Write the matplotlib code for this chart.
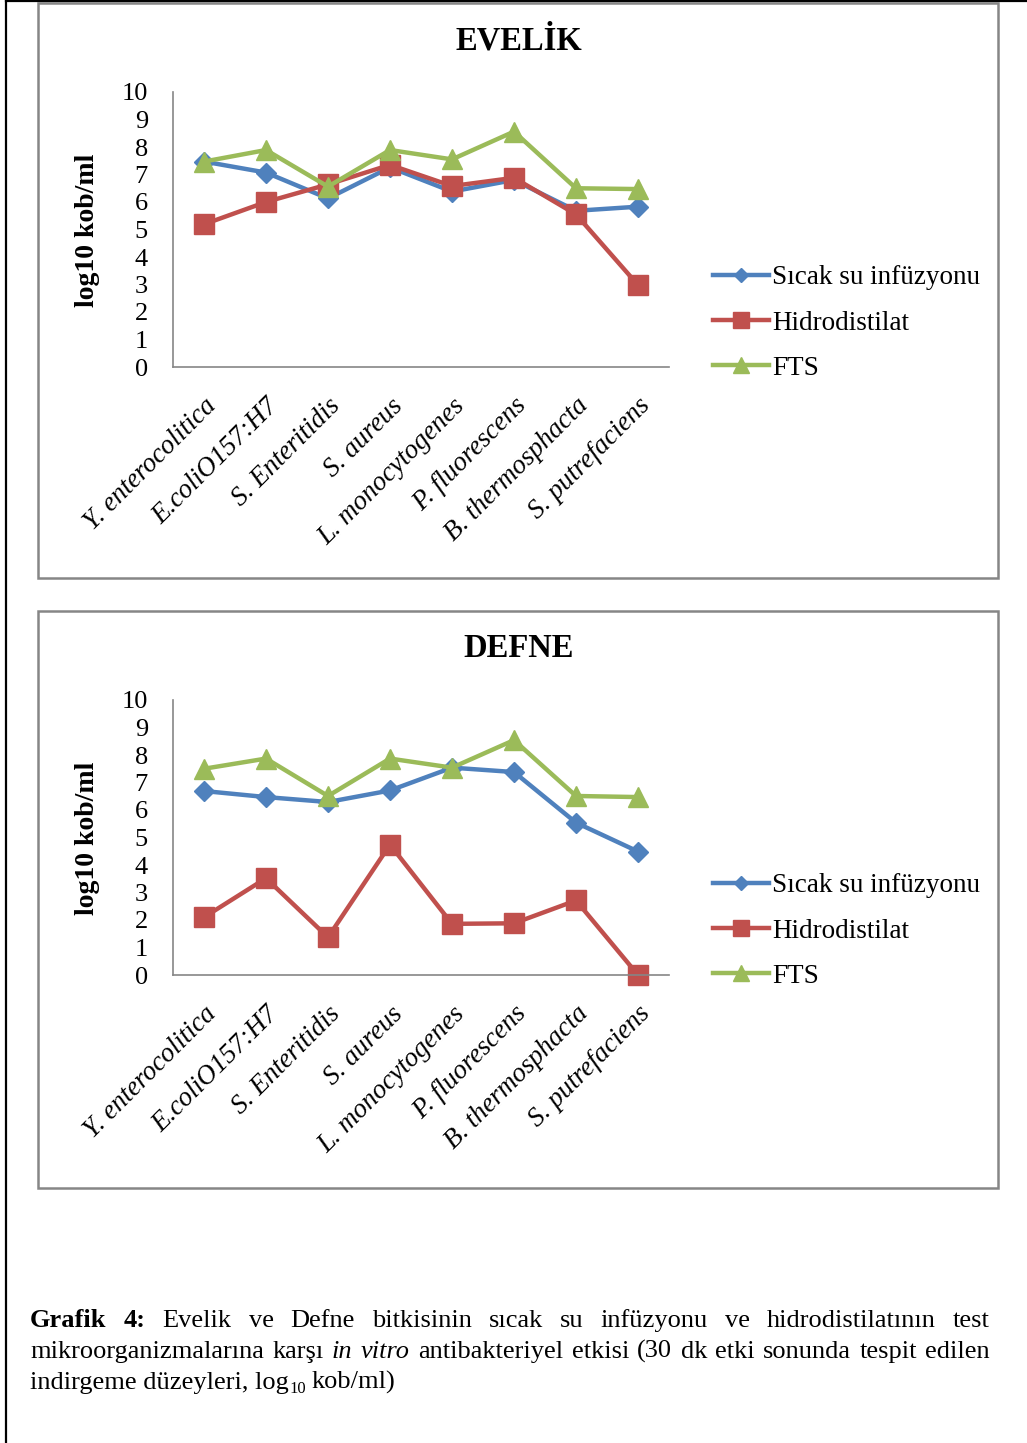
import matplotlib
matplotlib.use('Agg')
import matplotlib.pyplot as plt
from matplotlib.lines import Line2D
from matplotlib.patches import Rectangle

plt.rcParams['font.family'] = ['Liberation Serif', 'DejaVu Serif']

# mikroorganizmalar (x ekseni)
kategoriler = ['Y. enterocolitica', 'E.coliO157:H7', 'S. Enteritidis', 'S. aureus',
               'L. monocytogenes', 'P. fluorescens', 'B. thermosphacta', 'S. putrefaciens']
seriler = ['Sıcak su infüzyonu', 'Hidrodistilat', 'FTS']

# EVELİK, log10 kob/ml
evelik_sicak = [7.47, 7.07, 6.13, 7.26, 6.38, 6.80, 5.68, 5.83]
evelik_hidro = [5.19, 6.00, 6.64, 7.35, 6.58, 6.88, 5.55, 2.98]
evelik_fts = [7.47, 7.89, 6.56, 7.89, 7.55, 8.56, 6.50, 6.47]

# DEFNE, log10 kob/ml
defne_sicak = [6.69, 6.47, 6.29, 6.71, 7.54, 7.38, 5.54, 4.49]
defne_hidro = [2.10, 3.52, 1.37, 4.74, 1.86, 1.88, 2.71, 0.00]
defne_fts = [7.50, 7.87, 6.51, 7.87, 7.54, 8.54, 6.51, 6.47]

y_ticks = list(range(0, 11))

renkler = ['#4F81BD', '#C0504D', '#9BBB59']
isaretler = [('D', 10), ('s', 14.5), ('^', 14.5)]

W, H = 1027, 1443
fig = plt.figure(figsize=(W / 100, H / 100), dpi=100)


def fx(x):
    return x / W


def fy(y):
    return 1 - y / H


# sayfa kenar çizgileri
fig.add_artist(Line2D([fx(6), fx(6)], [0, 1], color='black', lw=1.6))
fig.add_artist(Line2D([fx(6), 1], [fy(0.5), fy(0.5)], color='black', lw=1.6))


def grafik(ust, alt, baslik, degerler):
    # çerçeve
    fig.add_artist(Rectangle((fx(38), fy(alt)), fx(998) - fx(38), (alt - ust) / H,
                             transform=fig.transFigure, fill=False,
                             edgecolor='#868686', lw=1.8))
    fig.text(fx(519), fy(ust + 38), baslik, ha='center', va='center',
             fontsize=23.5, fontweight='bold')
    fig.text(fx(88), fy(ust + 227), 'log10 kob/ml', rotation=90, ha='center',
             va='center', fontsize=20, fontweight='bold')

    eksen_ust = ust + 89
    ax = fig.add_axes([fx(173), fy(eksen_ust + 275), 496 / W, 275 / H])
    x = list(range(len(kategoriler)))
    for vals, ad, renk, (m, ms) in zip(degerler, seriler, renkler, isaretler):
        ax.plot(x, vals, color=renk, lw=3.2, marker=m, markersize=ms,
                label=ad, clip_on=False, solid_joinstyle='round')

    ax.set_xlim(-0.5, 7.5)
    ax.set_ylim(0, 10)
    ax.set_yticks(y_ticks)
    ax.set_yticklabels([str(t) for t in y_ticks], fontsize=19)
    ax.set_xticks(x)
    ax.set_xticklabels(kategoriler, rotation=45, ha='right', va='top',
                       rotation_mode='anchor', fontsize=19.5, fontstyle='italic')
    ax.tick_params(axis='y', length=0, pad=18)
    ax.tick_params(axis='x', length=0, pad=19)
    for s in ['top', 'right']:
        ax.spines[s].set_visible(False)
    for s in ['left', 'bottom']:
        ax.spines[s].set_color('#868686')
        ax.spines[s].set_linewidth(1.2)

    ax.legend(loc='center left', bbox_to_anchor=(fx(699), fy(ust + 320)),
              bbox_transform=fig.transFigure, frameon=False, fontsize=19.5,
              borderpad=0, handlelength=2.1, handletextpad=0.1,
              labelspacing=0.74, markerscale=0.75)


grafik(3, 578, 'EVELİK', [evelik_sicak, evelik_hidro, evelik_fts])
grafik(611, 1188, 'DEFNE', [defne_sicak, defne_hidro, defne_fts])

# alt yazı, iki yana yaslı
satirlar = [
    [('Grafik', 'bold', 'normal'), ('4:', 'bold', 'normal'), ('Evelik', 'normal', 'normal'),
     ('ve', 'normal', 'normal'), ('Defne', 'normal', 'normal'), ('bitkisinin', 'normal', 'normal'),
     ('sıcak', 'normal', 'normal'), ('su', 'normal', 'normal'), ('infüzyonu', 'normal', 'normal'),
     ('ve', 'normal', 'normal'), ('hidrodistilatının', 'normal', 'normal'), ('test', 'normal', 'normal')],
    [('mikroorganizmalarına', 'normal', 'normal'), ('karşı', 'normal', 'normal'),
     ('in', 'normal', 'italic'), ('vitro', 'normal', 'italic'), ('antibakteriyel', 'normal', 'normal'),
     ('etkisi', 'normal', 'normal'), ('(30', 'normal', 'normal'), ('dk', 'normal', 'normal'),
     ('etki', 'normal', 'normal'), ('sonunda', 'normal', 'normal'), ('tespit', 'normal', 'normal'),
     ('edilen', 'normal', 'normal')],
]
taban = [1327, 1358]
renderer = fig.canvas.get_renderer()
boyut = 19
for satir, yb in zip(satirlar, taban):
    yazilar = []
    for kelime, agirlik, stil in satir:
        t = fig.text(0, fy(yb), kelime, fontsize=boyut, fontweight=agirlik,
                     fontstyle=stil, ha='left', va='baseline')
        yazilar.append(t)
    genislik = [t.get_window_extent(renderer).width for t in yazilar]
    bosluk = (990 - 30 - sum(genislik)) / (len(yazilar) - 1)
    xp = 30
    for t, g in zip(yazilar, genislik):
        t.set_x(fx(xp))
        xp += g + bosluk

# son satır, log alt indisi ile
t1 = fig.text(fx(30), fy(1389), 'indirgeme düzeyleri, log', fontsize=boyut,
              ha='left', va='baseline')
g1 = t1.get_window_extent(renderer).width
t2 = fig.text(fx(30 + g1 + 1), fy(1393), '10', fontsize=12, ha='left', va='baseline')
g2 = t2.get_window_extent(renderer).width
fig.text(fx(30 + g1 + g2 + 6), fy(1389), 'kob/ml)', fontsize=boyut,
         ha='left', va='baseline')

fig.savefig('out.png', dpi=100)
